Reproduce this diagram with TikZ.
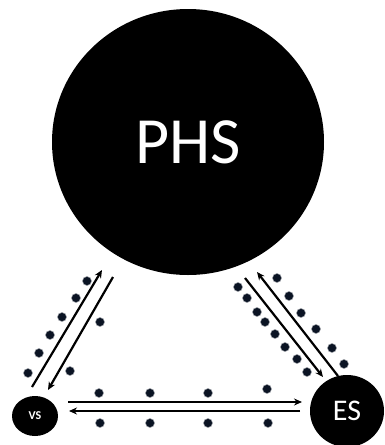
\documentclass[tikz,border=0pt]{standalone}
\usepackage{fontspec}
\setmainfont{Carlito}
\usetikzlibrary{shapes.geometric,arrows.meta}
\begin{document}
\begin{tikzpicture}[x=1pt,y=-1pt,
  blob/.style={ellipse,fill=black,draw=none,inner sep=0pt,text=white},
  flow/.style={line width=2.2pt,-{Stealth[length=8pt,width=7pt]}},
  dot/.style={circle,fill=dotc,draw=dotc!40!white,line width=0.5pt,minimum size=9pt,inner sep=0pt}]
\definecolor{dotc}{HTML}{0B1424}
\useasboundingbox (0,0) rectangle (385,445);
\node[blob,minimum width=272pt,minimum height=266pt,font=\fontsize{66}{66}\selectfont] (phs) at (188,142) {PHS};
\node[blob,minimum width=46pt,minimum height=40pt,font=\bfseries\fontsize{12}{12}\selectfont] (vs) at (35,416) {VS};
\node[blob,minimum width=74pt,minimum height=72pt,font=\fontsize{30}{30}\selectfont] (es) at (347,411) {ES};
% left diagonal arrows
\coordinate (a1s) at (32,387); \coordinate (a1e) at (102,270);
\coordinate (a2s) at (113,277); \coordinate (a2e) at (48,390);
\draw[flow] (a1s) -- (a1e);
\draw[flow] (a2s) -- (a2e);
% right diagonal arrows
\coordinate (b1s) at (245,278); \coordinate (b1e) at (323,377);
\coordinate (b2s) at (338,376); \coordinate (b2e) at (257,272);
\draw[flow] (b1s) -- (b1e);
\draw[flow] (b2s) -- (b2e);
% horizontal arrows
\coordinate (c1s) at (68,402); \coordinate (c1e) at (302,402);
\coordinate (c2s) at (300,411); \coordinate (c2e) at (69,411);
\draw[flow] (c1s) -- (c1e);
\draw[flow] (c2s) -- (c2e);
% dots left
\foreach \p [count=\i] in {(28,373),(39,353),(50,335),(62,317),(76,298),(87,281),(100,322),(70,371)}
  \node[dot] (dl\i) at \p {};
% dots right
\foreach \p [count=\i] in {(238,287),(247,298),(257,312),(265,322),(275,334),(285,347),(297,359),(307,372),(277,278),(289,296),(301,313),(316,329),(332,348),(344,364)}
  \node[dot] (dr\i) at \p {};
% dots bottom
\foreach \p [count=\i] in {(99,393),(150,393),(208,393),(267,389),(100,423),(150,423),(208,423),(268,423)}
  \node[dot] (db\i) at \p {};
\end{tikzpicture}
\end{document}
